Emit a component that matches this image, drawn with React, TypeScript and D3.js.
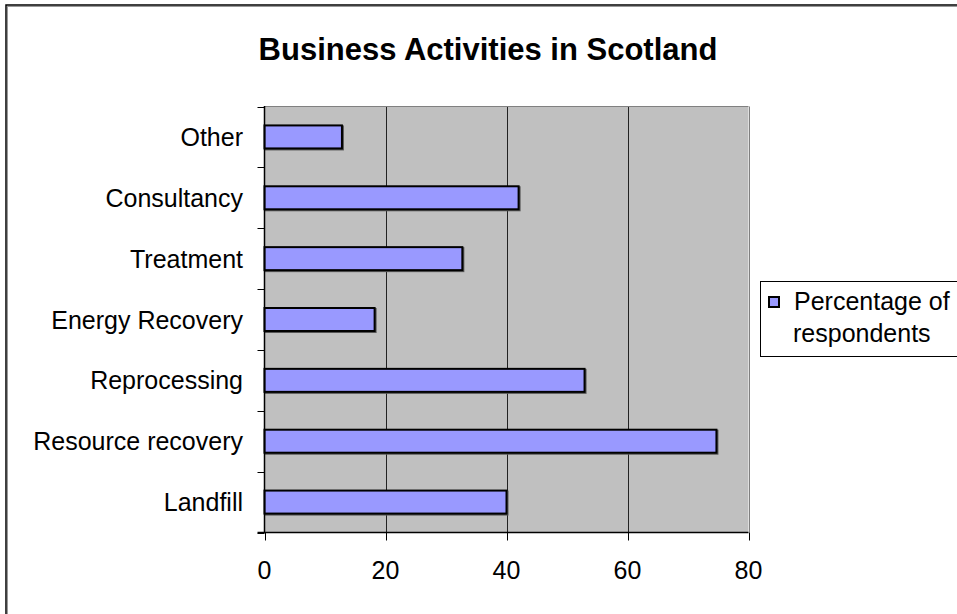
import React from "react";
import * as d3 from "d3";

const categories = ["Other", "Consultancy", "Treatment", "Energy Recovery", "Reprocessing", "Resource recovery", "Landfill"];
const values = [12.8, 42, 32.7, 18.2, 52.9, 74.7, 40];
const xTicks = [0, 20, 40, 60, 80];
const seriesName = ["Percentage of", "respondents"];
const title = "Business Activities in Scotland";

const W = 957;
const H = 614;
const plot = { left: 264.5, right: 748.5, top: 106.5, bottom: 532.5 };
const FONT = "'Liberation Sans', Arial, sans-serif";

export default function App() {
  const x = d3.scaleLinear().domain([0, 80]).range([plot.left, plot.right]);
  const y = d3.scaleBand<string>().domain(categories).range([plot.top, plot.bottom]);
  const step = y.step();
  const boundaries = d3.range(categories.length + 1).map((i) => plot.top + i * step);

  return (
    <svg width={W} height={H} style={{ position: "absolute", left: 0, top: 0, background: "#fff" }} fontFamily={FONT}>
      {/* outer border */}
      <rect x={7.5} y={6.5} width={1000} height={700} fill="none" stroke="#999" strokeWidth={1} />
      <rect x={6} y={5} width={1000} height={700} fill="none" stroke="#000" strokeWidth={1.5} />

      <text x={488} y={60} textAnchor="middle" fontSize={31} fontWeight="bold" fill="#000">{title}</text>

      {/* plot area */}
      <rect x={plot.left} y={plot.top} width={plot.right - plot.left} height={plot.bottom - plot.top} fill="#C0C0C0" />
      {xTicks.slice(1).map((t) => (
        <line key={"g" + t} x1={Math.round(x(t)) + 0.5} x2={Math.round(x(t)) + 0.5} y1={plot.top} y2={plot.bottom} stroke={t === 80 ? "#808080" : "#222"} strokeWidth={1} />
      ))}
      <line x1={plot.left} x2={plot.right} y1={plot.top} y2={plot.top} stroke="#808080" strokeWidth={1} />

      {/* bars */}
      {categories.map((c, i) => {
        const cy = (y(c) as number) + step / 2;
        const bh = 23;
        const x0 = x(0);
        const x1 = x(values[i]);
        return (
          <g key={c}>
            <rect x={x0 + 1} y={cy - bh / 2 + 1} width={x1 - x0} height={bh} fill="none" stroke="#555" strokeWidth={2} />
            <rect x={x0} y={cy - bh / 2} width={x1 - x0} height={bh} fill="#9999FF" stroke="#000" strokeWidth={2} />
          </g>
        );
      })}

      {/* axes */}
      <line x1={plot.left} x2={plot.left} y1={plot.top - 0.5} y2={plot.bottom + 0.5} stroke="#000" strokeWidth={1.5} />
      <line x1={plot.left - 7} x2={plot.right} y1={plot.bottom} y2={plot.bottom} stroke="#000" strokeWidth={1.5} />
      {boundaries.map((b, i) => (
        <line key={"yt" + i} x1={plot.left - 7} x2={plot.left} y1={Math.round(b) + 0.5} y2={Math.round(b) + 0.5} stroke="#000" strokeWidth={1} />
      ))}
      {xTicks.map((t) => (
        <line key={"xt" + t} x1={Math.round(x(t)) + 0.5} x2={Math.round(x(t)) + 0.5} y1={plot.bottom} y2={plot.bottom + 8} stroke="#000" strokeWidth={1} />
      ))}
      {xTicks.map((t) => (
        <text key={"xl" + t} x={x(t)} y={579} textAnchor="middle" fontSize={25} fill="#000">{t}</text>
      ))}
      {categories.map((c) => (
        <text key={"yl" + c} x={243} y={(y(c) as number) + step / 2 + 9} textAnchor="end" fontSize={25} fill="#000">{c}</text>
      ))}

      {/* legend */}
      <rect x={760.5} y={281.5} width={220} height={75} fill="#fff" stroke="#000" strokeWidth={1} />
      <rect x={769} y={297} width={10} height={10} fill="#9999FF" stroke="#000" strokeWidth={2} />
      <text x={794} y={310} fontSize={25} fill="#000">{seriesName[0]}</text>
      <text x={793} y={342} fontSize={25} fill="#000">{seriesName[1]}</text>
    </svg>
  );
}
